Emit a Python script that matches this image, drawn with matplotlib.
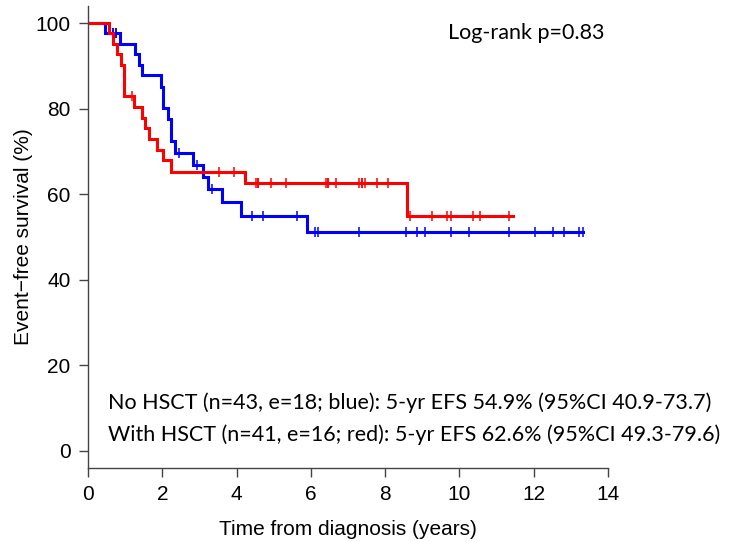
import numpy as np
import matplotlib
matplotlib.use('Agg')
import matplotlib.pyplot as plt

# Kaplan-Meier steps (years, % event-free)
red_times = [0, 0.57, 0.66, 0.77, 0.88, 0.97, 1.24, 1.45, 1.54, 1.65, 1.85, 2.03, 2.23, 4.23, 8.58]
red_surv = [100, 97.6, 95.1, 92.7, 90.2, 82.9, 80.4, 77.9, 75.4, 72.9, 70.4, 67.9, 65.3, 62.6, 54.8]
red_end = 11.45
red_censor = [1.18, 3.54, 3.93, 4.51, 4.58, 4.58, 4.93, 5.32, 6.41, 6.47, 6.47, 6.69,
              7.30, 7.37, 7.37, 7.47, 7.79, 8.09, 8.67, 9.27, 9.67, 9.76, 10.37, 10.55, 11.34]

blue_times = [0, 0.45, 0.86, 1.27, 1.36, 1.45, 1.97, 2.03, 2.15, 2.23, 2.34, 2.84, 3.10, 3.24, 3.62, 4.12, 5.90]
blue_surv = [100, 97.7, 95.2, 92.7, 90.2, 87.8, 85.1, 80.1, 77.5, 72.4, 69.7, 66.9, 64.0, 61.2, 58.1, 54.9, 51.2]
blue_end = 13.34
blue_censor = [0.68, 0.68, 0.75, 0.75, 2.46, 2.93, 3.33, 4.41, 4.70, 5.62, 6.10, 6.19, 7.29,
               8.56, 8.87, 9.07, 9.77, 10.25, 11.34, 12.04, 12.53, 12.82, 13.23, 13.34]

x_ticks = [0, 2, 4, 6, 8, 10, 12, 14]
y_ticks = [0, 20, 40, 60, 80, 100]

pvalue_text = 'Log-rank p=0.83'
blue_text = 'No HSCT (n=43, e=18; blue): 5-yr EFS 54.9% (95%CI 40.9-73.7)'
red_text = 'With HSCT (n=41, e=16; red): 5-yr EFS 62.6% (95%CI 49.3-79.6)'


def km_curve(ax, times, surv, end, censor, color):
    t = np.append(times, end)
    s = np.append(surv, surv[-1])
    ax.step(t, s, where='post', color=color, lw=2.2, solid_joinstyle='miter')
    idx = np.searchsorted(times, censor, side='right') - 1
    ax.plot(censor, np.array(surv)[idx], ls='none', marker='|', ms=7.5,
            mew=1.1, color=color)


plt.rcParams['font.family'] = ['Liberation Sans', 'DejaVu Sans']

fig = plt.figure(figsize=(7.38, 5.42), dpi=100)
ax = fig.add_axes([88 / 738, 1 - 468 / 542, 520 / 738, 462 / 542])

km_curve(ax, blue_times, blue_surv, blue_end, blue_censor, '#0000ff')
km_curve(ax, red_times, red_surv, red_end, red_censor, '#ff0000')

ax.set_xlim(0, 14)
ax.set_ylim(-4, 104)
ax.set_xticks(x_ticks)
ax.set_yticks(y_ticks)
ax.spines['top'].set_visible(False)
ax.spines['right'].set_visible(False)
for sp in ['left', 'bottom']:
    ax.spines[sp].set_color('#444444')
    ax.spines[sp].set_linewidth(1.0)
ax.tick_params(direction='out', length=6.5, width=1.0, color='#444444',
               labelsize=15, pad=6)
ax.set_xlabel('Time from diagnosis (years)', fontsize=15, labelpad=11)
ax.set_ylabel('Event\u2212free survival (%)', fontsize=15, labelpad=2)

font_txt = ['Lato', 'DejaVu Sans']
ax.text(9.69, 97.8, pvalue_text, fontsize=15.5, family=font_txt, va='center', ha='left')
ax.text(0.54, 11.3, blue_text, fontsize=15.5, family=font_txt, va='center', ha='left')
ax.text(0.54, 3.85, red_text, fontsize=15.5, family=font_txt, va='center', ha='left')

fig.savefig('out.png', dpi=100)
